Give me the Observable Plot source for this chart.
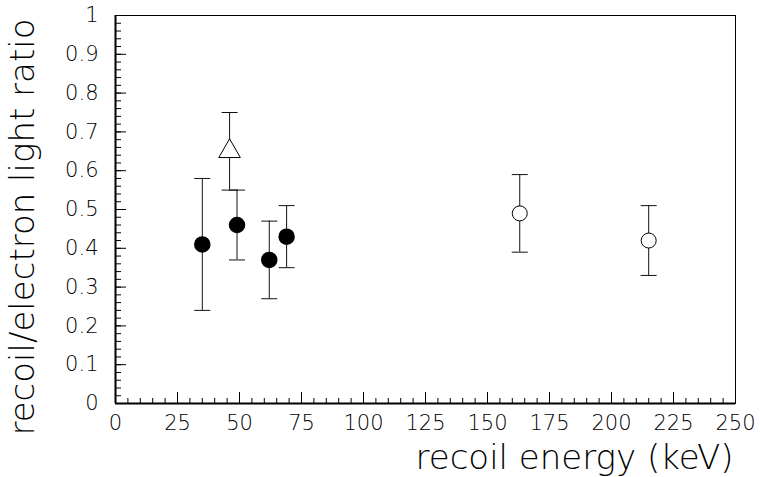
<!DOCTYPE html>
<html>
<head>
<meta charset="utf-8">
<script src="https://cdn.jsdelivr.net/npm/d3@7"></script>
<script src="https://cdn.jsdelivr.net/npm/@observablehq/plot@0.6"></script>
<style>
  html, body { margin: 0; padding: 0; background: #fff; }
</style>
</head>
<body>
<div id="chart"></div>
<script>
// Filled circles
const fillEnergy = [35, 49, 62, 69];
const fillRatio  = [0.41, 0.46, 0.37, 0.43];
const fillLow    = [0.24, 0.37, 0.27, 0.35];
const fillHigh   = [0.58, 0.55, 0.47, 0.51];
// Open triangle
const triEnergy = [46];
const triRatio  = [0.65];
const triLow    = [0.55];
const triHigh   = [0.75];
// Open circles
const openEnergy = [163, 215];
const openRatio  = [0.49, 0.42];
const openLow    = [0.39, 0.33];
const openHigh   = [0.59, 0.51];

const xTickValues = [0, 25, 50, 75, 100, 125, 150, 175, 200, 225, 250];
const yTickValues = [0, 0.1, 0.2, 0.3, 0.4, 0.5, 0.6, 0.7, 0.8, 0.9, 1];
const yTickLabels = ["0", "0.1", "0.2", "0.3", "0.4", "0.5", "0.6", "0.7", "0.8", "0.9", "1"];
const xMinorTicks = d3.range(0, 251, 5);
const yMinorTicks = d3.range(0, 51).map(i => i / 50);

const xTitle = "recoil energy (keV)";
const yTitle = "recoil/electron light ratio";

const mk = (e, r, lo, hi) => e.map((x, i) => ({x, y: r[i], lo: lo[i], hi: hi[i]}));
const filled = mk(fillEnergy, fillRatio, fillLow, fillHigh);
const tri = mk(triEnergy, triRatio, triLow, triHigh);
const open = mk(openEnergy, openRatio, openLow, openHigh);
const all = [...filled, ...tri, ...open];

const capSymbol = { draw(ctx) { ctx.moveTo(-8, 0); ctx.lineTo(8, 0); } };

const chart = Plot.plot({
  width: 760,
  height: 477,
  marginLeft: 115,
  marginRight: 25,
  marginTop: 15,
  marginBottom: 74,
  style: {fontFamily: "'DejaVu Sans', sans-serif", fontWeight: 200, background: "#fff"},
  x: {domain: [0, 250]},
  y: {domain: [0, 1]},
  marks: [
    Plot.frame({stroke: "#000", strokeWidth: 1}),
    // minor ticks (inward)
    Plot.axisX({ticks: xMinorTicks, tickSize: -5, text: null, label: null, stroke: "#000"}),
    Plot.axisY({ticks: yMinorTicks, tickSize: -6, text: null, label: null, stroke: "#000"}),
    // major ticks + labels
    Plot.axisX({ticks: xTickValues, tickSize: -11, tickPadding: 23, fontSize: 21, fontWeight: 200, label: null, stroke: "#000", fill: "#000"}),
    Plot.axisY({ticks: yTickValues, tickFormat: (d, i) => yTickLabels[i], tickSize: -11, tickPadding: 28, fontSize: 21, fontWeight: 200, label: null, stroke: "#000", fill: "#000"}),
    Plot.ruleX([0], {stroke: "#000", strokeWidth: 2}),
    Plot.ruleY([0], {stroke: "#000", strokeWidth: 2}),
    // error bars
    Plot.ruleX(all, {x: "x", y1: "lo", y2: "hi", stroke: "#111", strokeWidth: 1}),
    Plot.dot(all, {x: "x", y: "lo", symbol: capSymbol, stroke: "#111", strokeWidth: 1}),
    Plot.dot(all, {x: "x", y: "hi", symbol: capSymbol, stroke: "#111", strokeWidth: 1}),
    // markers
    Plot.dot(filled, {x: "x", y: "y", r: 7.5, fill: "#000", stroke: "#000"}),
    Plot.dot(open, {x: "x", y: "y", r: 7.5, fill: "#fff", stroke: "#000", strokeWidth: 1}),
    Plot.dot(tri, {x: "x", y: "y", symbol: "triangle", r: 8, fill: "#fff", stroke: "#000", strokeWidth: 1}),
    // titles
    Plot.text([xTitle], {frameAnchor: "bottom-right", textAnchor: "end", lineAnchor: "middle", dx: -2, dy: 55, fontSize: 34, fontWeight: 200, fill: "#000"}),
    Plot.text([yTitle], {frameAnchor: "top-left", textAnchor: "end", lineAnchor: "middle", rotate: -90, dx: -92, dy: 3, fontSize: 34, fontWeight: 200, fill: "#000"})
  ]
});
document.getElementById("chart").appendChild(chart);
</script>
</body>
</html>
